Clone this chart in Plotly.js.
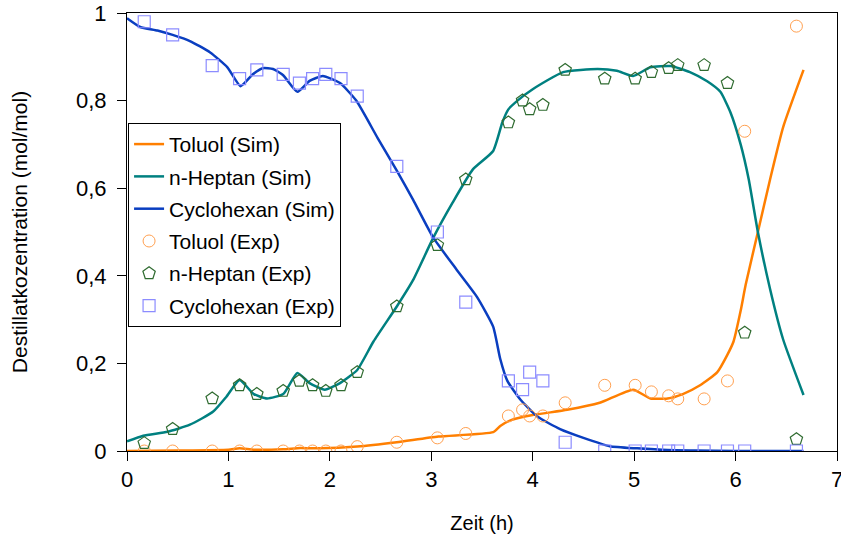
<!DOCTYPE html>
<html>
<head>
<meta charset="utf-8">
<script src="https://cdn.plot.ly/plotly-3.0.1.min.js"></script>
<style>html,body{margin:0;padding:0;background:#fff;}#chart{width:841px;height:537px;}</style>
</head>
<body>
<div id="chart"></div>
<script>
// Experimental sample times (h)
const expT = [0.17,0.45,0.84,1.11,1.28,1.54,1.70,1.83,1.96,2.11,2.27,2.66,3.06,3.34,3.76,3.90,3.97,4.10,4.32,4.71,5.01,5.17,5.34,5.43,5.69,5.92,6.09,6.60];
const toluolExp = [0,0,0,0,0,0,0,0,0,0,0.01,0.02,0.03,0.04,0.08,0.094,0.08,0.08,0.11,0.15,0.15,0.135,0.126,0.119,0.119,0.16,0.73,0.97];
const heptanExp = [0.018,0.05,0.12,0.15,0.13,0.137,0.16,0.15,0.137,0.15,0.18,0.33,0.47,0.62,0.75,0.80,0.78,0.79,0.87,0.85,0.85,0.865,0.874,0.881,0.881,0.84,0.27,0.027];
const cyclohexanExp = [0.98,0.95,0.88,0.85,0.87,0.86,0.84,0.85,0.86,0.85,0.81,0.65,0.50,0.34,0.16,0.14,0.18,0.16,0.02,0,0,0,0,0,0,0,0,0];

// Simulated curves
const toluolSimT = [0,0.5,1.0,1.11,1.25,1.54,1.71,1.9,2.27,2.66,3.07,3.61,3.68,3.78,4.0,4.34,4.66,4.99,5.16,5.33,5.48,5.65,5.82,5.92,5.98,6.05,6.1,6.22,6.34,6.47,6.67];
const toluolSimY = [0,0.001,0.003,0.006,0.003,0.004,0.007,0.006,0.01,0.02,0.033,0.043,0.057,0.07,0.082,0.094,0.11,0.14,0.12,0.12,0.13,0.15,0.18,0.22,0.25,0.32,0.38,0.5,0.62,0.74,0.87];

const heptanSimT = [0,0.16,0.4,0.62,0.85,0.98,1.11,1.25,1.38,1.54,1.68,1.8,1.95,2.1,2.27,2.43,2.66,2.82,3.02,3.21,3.41,3.61,3.70,3.76,3.85,4.0,4.3,4.64,4.83,4.99,5.16,5.36,5.55,5.72,5.85,5.95,6.05,6.13,6.22,6.34,6.47,6.67];
const heptanSimY = [0.022,0.035,0.044,0.06,0.09,0.124,0.162,0.13,0.12,0.13,0.178,0.155,0.14,0.155,0.185,0.25,0.33,0.39,0.487,0.567,0.643,0.685,0.75,0.78,0.80,0.826,0.865,0.872,0.868,0.856,0.876,0.879,0.865,0.844,0.82,0.773,0.70,0.62,0.5,0.37,0.254,0.128];

const cyclohexanSimT = [0,0.13,0.3,0.45,0.62,0.82,0.99,1.12,1.24,1.34,1.44,1.54,1.68,1.8,1.93,2.1,2.26,2.47,2.66,2.82,3.02,3.25,3.45,3.61,3.68,3.75,3.88,4.05,4.27,4.5,4.76,5.03,5.33,5.6,6.0,6.67];
const cyclohexanSimY = [0.988,0.968,0.96,0.95,0.936,0.91,0.876,0.833,0.86,0.874,0.872,0.858,0.82,0.845,0.856,0.84,0.80,0.715,0.64,0.574,0.487,0.414,0.352,0.284,0.21,0.16,0.117,0.078,0.05,0.03,0.011,0.006,0.002,0.001,0,0];

const xTickVals = [0,1,2,3,4,5,6,7];
const yTickVals = [0,0.2,0.4,0.6,0.8,1];
const yTickText = ["0","0,2","0,4","0,6","0,8","1"];

const lineStyle = (c) => ({color: c, width: 2.5, shape: 'spline', smoothing: 0.5});

const traces = [
  {x: toluolSimT, y: toluolSimY, mode: 'lines', name: 'Toluol (Sim)', line: lineStyle('#FF7F00'), legendgroup: 'a'},
  {x: heptanSimT, y: heptanSimY, mode: 'lines', name: 'n-Heptan (Sim)', line: lineStyle('#008080'), legendgroup: 'b'},
  {x: cyclohexanSimT, y: cyclohexanSimY, mode: 'lines', name: 'Cyclohexan (Sim)', line: lineStyle('#0A3EC0'), legendgroup: 'c'},
  {x: expT, y: toluolExp, mode: 'markers', name: 'Toluol (Exp)', legendgroup: 'd',
   marker: {symbol: 'circle-open', size: 12, color: '#FFA050', line: {width: 1, color: '#FFA050'}}},
  {x: expT, y: heptanExp, mode: 'markers', name: 'n-Heptan (Exp)', legendgroup: 'e',
   marker: {symbol: 'pentagon-open', size: 13, color: '#2F6B30', line: {width: 1.2, color: '#2F6B30'}}},
  {x: expT, y: cyclohexanExp, mode: 'markers', name: 'Cyclohexan (Exp)', legendgroup: 'f',
   marker: {symbol: 'square-open', size: 12, color: '#8C8CFF', line: {width: 1.2, color: '#8C8CFF'}}}
];

const font = 'Arial, "Liberation Sans", sans-serif';
const layout = {
  width: 841, height: 537,
  margin: {l: 127, r: 4, t: 13, b: 86},
  paper_bgcolor: '#fff', plot_bgcolor: '#fff',
  font: {family: font, color: '#000', size: 20},
  showlegend: true,
  legend: {x: 0.0015, y: 0.749, xanchor: 'left', yanchor: 'top', bgcolor: '#fff',
    bordercolor: '#000', borderwidth: 1, font: {family: font, size: 21, color: '#000'},
    traceorder: 'grouped', tracegroupgap: 2, itemwidth: 30},
  xaxis: {range: [0, 7], tickvals: xTickVals, ticks: 'outside', ticklen: 9, tickwidth: 1, tickcolor: '#000',
    showline: true, linecolor: '#000', linewidth: 1, mirror: true, showgrid: false, zeroline: false,
    ticklabeloverflow: 'allow',
    tickfont: {family: font, size: 22}, title: {text: 'Zeit (h)', font: {family: font, size: 20}, standoff: 24}},
  yaxis: {range: [0, 1], tickvals: yTickVals, ticktext: yTickText, ticks: 'outside', ticklen: 9, tickwidth: 1, tickcolor: '#000',
    showline: true, linecolor: '#000', linewidth: 1, mirror: true, showgrid: false, zeroline: false,
    ticklabelstandoff: 6,
    tickfont: {family: font, size: 22}, title: {text: 'Destillatkozentration (mol/mol)', font: {family: font, size: 21}, standoff: 42}}
};

Plotly.newPlot('chart', traces, layout, {displayModeBar: false, staticPlot: true});
</script>
</body>
</html>
